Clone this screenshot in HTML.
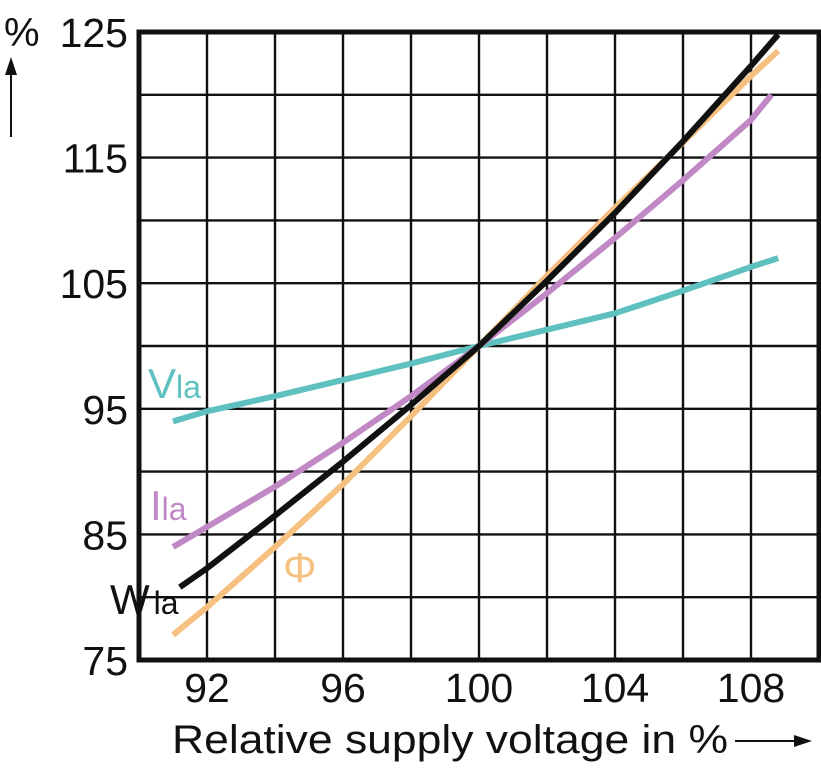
<!DOCTYPE html>
<html><head><meta charset="utf-8"><style>body{margin:0;background:#fff}svg{display:block;font-family:"Liberation Sans",sans-serif}</style></head>
<body>
<svg id="c" width="821" height="768"></svg>
<script>
const xTicks=[92,96,100,104,108];
const yTicks=[75,85,95,105,115,125];
const xW=[91.2,92,94,96,98,100,102,104,106,108,108.8];
const yW=[80.8,82.3,86.5,90.8,95.3,100,105.2,110.6,116.3,122.3,124.8];
const xPhi=[91,92,94,96,98,100,102,104,106,108,108.8];
const yPhi=[77,79.2,84,89,94.4,100,105.6,111,116.2,121.5,123.5];
const xI=[91,92,94,96,98,100,102,104,106,108,108.6];
const yI=[84,85.6,88.8,92.3,96,100,104.2,108.6,113.2,118,120];
const xV=[91,92,94,96,98,100,102,104,106,108,108.8];
const yV=[94,94.8,96,97.3,98.6,100,101.3,102.6,104.4,106.3,107];
const L=139,R=819,T=32,B=660;
const sx=v=>L+(v-90)/20*(R-L), sy=v=>B-(v-75)/50*(B-T);
const s=document.getElementById('c'),NS='http://www.w3.org/2000/svg';
function el(t,a,txt){const e=document.createElementNS(NS,t);for(const k in a)e.setAttribute(k,a[k]);if(txt!==undefined)e.textContent=txt;s.appendChild(e);return e;}
for(let v=92;v<110;v+=2){const e=el('line',{x1:sx(v),x2:sx(v),y1:T,y2:B,stroke:'#111','stroke-width':2.4});
}
for(let v=80;v<125;v+=5){const e=el('line',{x1:L,x2:R,y1:sy(v),y2:sy(v),stroke:'#111','stroke-width':2.4});
}
xTicks.forEach(v=>{const e=el('text',{x:sx(v),y:702,'font-size':41,'text-anchor':'middle',fill:'#111'},String(v));
});
yTicks.forEach(v=>{const e=el('text',{x:128,y:sy(v)+15,'font-size':41,'text-anchor':'end',fill:'#111'},String(v));
});
function series(xs,ys,col,name){const d=xs.map((x,i)=>(i?'L':'M')+sx(x).toFixed(1)+','+sy(ys[i]).toFixed(1)).join('');
const e=el('path',{d:d,fill:'none',stroke:col,'stroke-width':6,'stroke-linecap':'butt','stroke-linejoin':'round'});
}
series(xV,yV,'#5fc0c0','series-vla');
series(xI,yI,'#c088c4','series-ila');
series(xPhi,yPhi,'#f5c080','series-phi');
series(xW,yW,'#111','series-wla');
const f=el('rect',{x:L,y:T,width:R-L,height:B-T,fill:'none',stroke:'#111','stroke-width':5});

</script>
<svg width="821" height="768" style="position:absolute;left:0;top:0;font-family:'Liberation Sans',sans-serif">
<text x="4" y="46" font-size="40" fill="#111">%</text>
<line x1="11" y1="137" x2="11" y2="70" stroke="#111" stroke-width="2"/>
<polygon points="11,57 5,75 17,75" fill="#111"/>
<text x="172" y="753" font-size="40" textLength="556" lengthAdjust="spacingAndGlyphs" fill="#111">Relative supply voltage in %</text>
<line x1="735" y1="741" x2="798" y2="741" stroke="#111" stroke-width="2"/>
<polygon points="812,741 794,735 794,747" fill="#111"/>
<text x="148" y="398" font-size="42" fill="#5fc0c0">V<tspan font-size="32">la</tspan></text>
<text x="150" y="520" font-size="42" fill="#c088c4">I<tspan font-size="32">la</tspan></text>
<text x="283" y="582" font-size="42" fill="#f5c080">Φ</text>
<text x="110" y="614" font-size="42" fill="#111">W<tspan font-size="32" dx="4">la</tspan></text>
</svg>
</body></html>
